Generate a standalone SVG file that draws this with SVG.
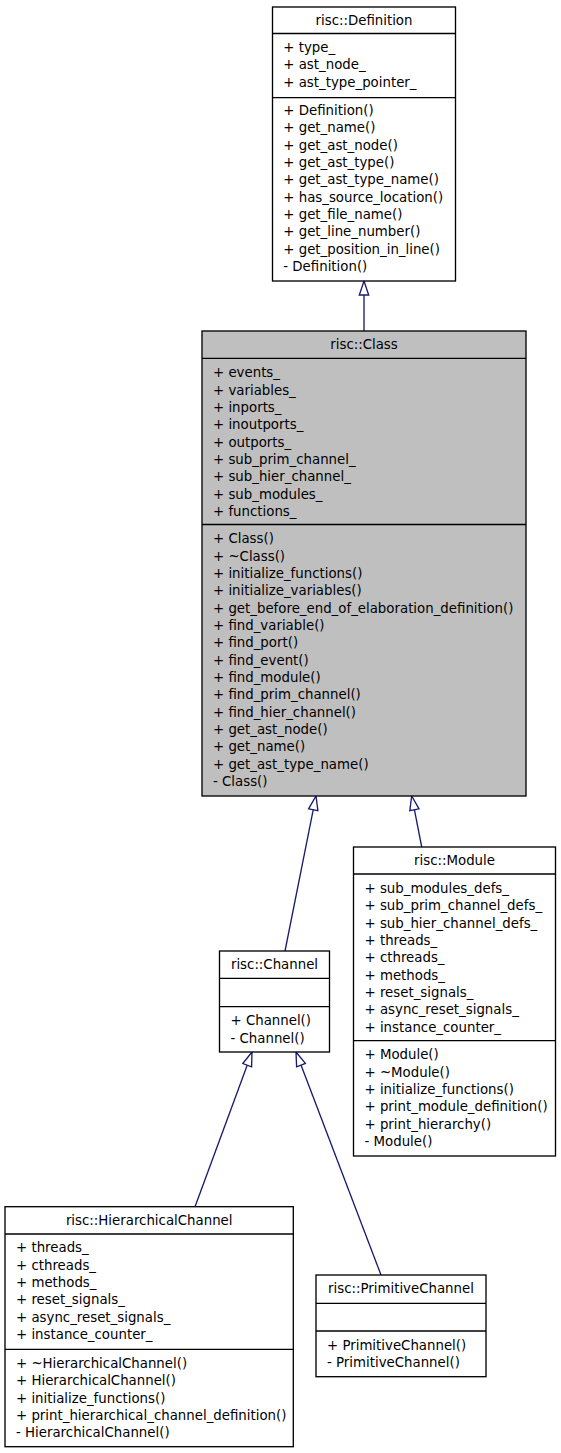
<svg xmlns="http://www.w3.org/2000/svg" width="561" height="1453" viewBox="0 0 561 1453">
<style>
text{font-family:"DejaVu Sans","Liberation Sans",sans-serif;font-size:13.33px;fill:#000}
.t{text-anchor:middle}
.box{fill:#fff;stroke:#000;stroke-width:1.33}
.cur{fill:#bfbfbf;stroke:#000;stroke-width:1.33}
.sep{stroke:#000;stroke-width:1.33;fill:none}
.edge{stroke:#191970;stroke-width:1.33;fill:none}
.head{stroke:#191970;stroke-width:1.33;fill:#fff}
</style>
<rect width="561" height="1453" fill="#fff"/>

<g id="connectors">
  <line class="edge" x1="364" y1="331" x2="364" y2="295"/>
  <polygon class="head" points="364,281 368.7,295 359.3,295"/>
  <line class="edge" x1="285" y1="951" x2="313.25" y2="809.7"/>
  <polygon class="head" points="316,796 317.9,810.6 308.6,808.8"/>
  <line class="edge" x1="421.7" y1="847" x2="414.4" y2="809.7"/>
  <polygon class="head" points="411.7,796 419,808.8 409.8,810.6"/>
  <line class="edge" x1="195" y1="1206.7" x2="247.2" y2="1065.2"/>
  <polygon class="head" points="252,1052 251.6,1066.8 242.8,1063.5"/>
  <line class="edge" x1="381" y1="1275" x2="301" y2="1065.1"/>
  <polygon class="head" points="296,1052 305.4,1063.4 296.6,1066.8"/>
</g>

<g id="node-definition">
  <rect class="box" x="272.5" y="7" width="183" height="274"/>
  <line class="sep" x1="272.5" y1="33.5" x2="455.5" y2="33.5"/>
  <line class="sep" x1="272.5" y1="97.7" x2="455.5" y2="97.7"/>
  <text class="t" x="364" y="24.5">risc::Definition</text>
  <text x="283.3" y="52">+ type_</text>
  <text x="283.3" y="69.3">+ ast_node_</text>
  <text x="283.3" y="86.6">+ ast_type_pointer_</text>
  <text x="283.3" y="115">+ Definition()</text>
  <text x="283.3" y="132.3">+ get_name()</text>
  <text x="283.3" y="149.7">+ get_ast_node()</text>
  <text x="283.3" y="167">+ get_ast_type()</text>
  <text x="283.3" y="184.3">+ get_ast_type_name()</text>
  <text x="283.3" y="201.7">+ has_source_location()</text>
  <text x="283.3" y="219">+ get_file_name()</text>
  <text x="283.3" y="236.3">+ get_line_number()</text>
  <text x="283.3" y="253.7">+ get_position_in_line()</text>
  <text x="283.3" y="271">- Definition()</text>
</g>

<g id="node-class">
  <rect class="cur" x="202" y="331" width="324" height="465"/>
  <line class="sep" x1="202" y1="358.3" x2="526" y2="358.3"/>
  <line class="sep" x1="202" y1="524.5" x2="526" y2="524.5"/>
  <text class="t" x="364" y="349">risc::Class</text>
  <text x="213" y="377.2">+ events_</text>
  <text x="213" y="394.5">+ variables_</text>
  <text x="213" y="411.8">+ inports_</text>
  <text x="213" y="429.2">+ inoutports_</text>
  <text x="213" y="446.5">+ outports_</text>
  <text x="213" y="463.8">+ sub_prim_channel_</text>
  <text x="213" y="481.2">+ sub_hier_channel_</text>
  <text x="213" y="498.5">+ sub_modules_</text>
  <text x="213" y="515.8">+ functions_</text>
  <text x="213" y="543.2">+ Class()</text>
  <text x="213" y="560.5">+ ~Class()</text>
  <text x="213" y="577.8">+ initialize_functions()</text>
  <text x="213" y="595.2">+ initialize_variables()</text>
  <text x="213" y="612.5">+ get_before_end_of_elaboration_definition()</text>
  <text x="213" y="629.8">+ find_variable()</text>
  <text x="213" y="647.2">+ find_port()</text>
  <text x="213" y="664.5">+ find_event()</text>
  <text x="213" y="681.8">+ find_module()</text>
  <text x="213" y="699.2">+ find_prim_channel()</text>
  <text x="213" y="716.5">+ find_hier_channel()</text>
  <text x="213" y="733.8">+ get_ast_node()</text>
  <text x="213" y="751.2">+ get_name()</text>
  <text x="213" y="768.5">+ get_ast_type_name()</text>
  <text x="213" y="785.8">- Class()</text>
</g>

<g id="node-module">
  <rect class="box" x="353.5" y="847" width="202" height="309"/>
  <line class="sep" x1="353.5" y1="874" x2="555.5" y2="874"/>
  <line class="sep" x1="353.5" y1="1040.7" x2="555.5" y2="1040.7"/>
  <text class="t" x="454.5" y="865">risc::Module</text>
  <text x="364.5" y="892.8">+ sub_modules_defs_</text>
  <text x="364.5" y="910.1">+ sub_prim_channel_defs_</text>
  <text x="364.5" y="927.5">+ sub_hier_channel_defs_</text>
  <text x="364.5" y="944.8">+ threads_</text>
  <text x="364.5" y="962.1">+ cthreads_</text>
  <text x="364.5" y="979.5">+ methods_</text>
  <text x="364.5" y="996.8">+ reset_signals_</text>
  <text x="364.5" y="1014.1">+ async_reset_signals_</text>
  <text x="364.5" y="1031.5">+ instance_counter_</text>
  <text x="364.5" y="1059.4">+ Module()</text>
  <text x="364.5" y="1076.7">+ ~Module()</text>
  <text x="364.5" y="1094.1">+ initialize_functions()</text>
  <text x="364.5" y="1111.4">+ print_module_definition()</text>
  <text x="364.5" y="1128.7">+ print_hierarchy()</text>
  <text x="364.5" y="1146.1">- Module()</text>
</g>

<g id="node-channel">
  <rect class="box" x="219.5" y="951" width="110" height="101"/>
  <line class="sep" x1="219.5" y1="978.3" x2="329.5" y2="978.3"/>
  <line class="sep" x1="219.5" y1="1006.7" x2="329.5" y2="1006.7"/>
  <text class="t" x="274.5" y="969">risc::Channel</text>
  <text x="230.5" y="1025.4">+ Channel()</text>
  <text x="230.5" y="1042.7">- Channel()</text>
</g>

<g id="node-hierarchicalchannel">
  <rect class="box" x="5" y="1206.7" width="288.3" height="240"/>
  <line class="sep" x1="5" y1="1234" x2="293.3" y2="1234"/>
  <line class="sep" x1="5" y1="1349.3" x2="293.3" y2="1349.3"/>
  <text class="t" x="149.2" y="1224.8">risc::HierarchicalChannel</text>
  <text x="16" y="1252.3">+ threads_</text>
  <text x="16" y="1269.6">+ cthreads_</text>
  <text x="16" y="1287">+ methods_</text>
  <text x="16" y="1304.3">+ reset_signals_</text>
  <text x="16" y="1321.6">+ async_reset_signals_</text>
  <text x="16" y="1339">+ instance_counter_</text>
  <text x="16" y="1367.8">+ ~HierarchicalChannel()</text>
  <text x="16" y="1385.1">+ HierarchicalChannel()</text>
  <text x="16" y="1402.5">+ initialize_functions()</text>
  <text x="16" y="1419.8">+ print_hierarchical_channel_definition()</text>
  <text x="16" y="1437.1">- HierarchicalChannel()</text>
</g>

<g id="node-primitivechannel">
  <rect class="box" x="316" y="1275" width="170" height="101.7"/>
  <line class="sep" x1="316" y1="1303.3" x2="486" y2="1303.3"/>
  <line class="sep" x1="316" y1="1331" x2="486" y2="1331"/>
  <text class="t" x="401" y="1293">risc::PrimitiveChannel</text>
  <text x="327" y="1349.7">+ PrimitiveChannel()</text>
  <text x="327" y="1367">- PrimitiveChannel()</text>
</g>
</svg>
